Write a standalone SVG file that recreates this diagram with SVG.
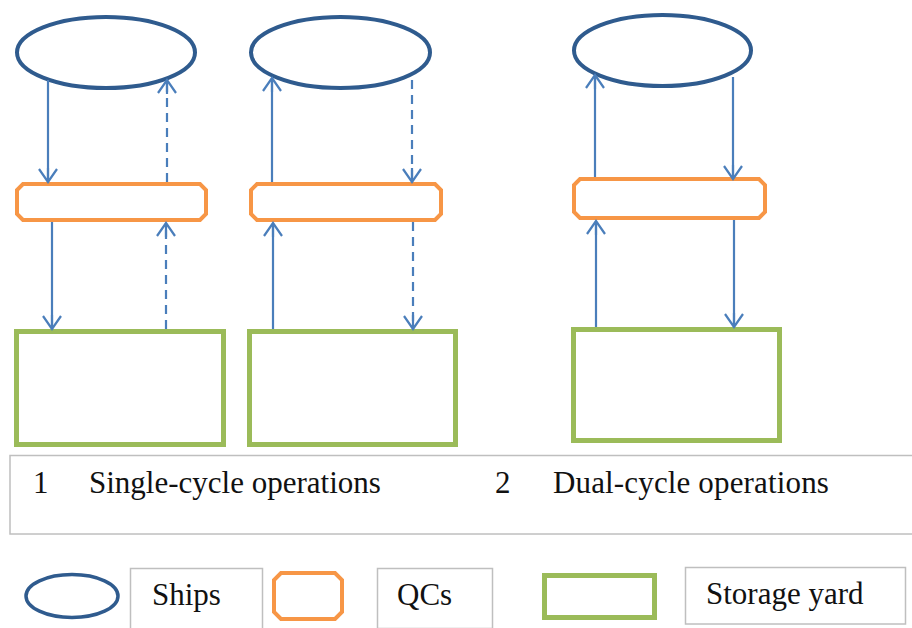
<svg xmlns="http://www.w3.org/2000/svg" width="912" height="628" viewBox="0 0 912 628">
  <style>
    .ship { fill: #ffffff; stroke: #2F5B8E; stroke-width: 4; }
    .qc { fill: #ffffff; stroke: #F79646; stroke-width: 4; stroke-linejoin: miter; }
    .yard { fill: #ffffff; stroke: #9BBB59; stroke-width: 5; }
    .flow { fill: none; stroke: #4A7EBB; stroke-width: 2.2; marker-end: url(#head); }
    .dash { stroke-dasharray: 9 6; }
    .frame { fill: #ffffff; stroke: #BFBFBF; stroke-width: 1.5; }
    .label { font-family: "Liberation Serif", "Times New Roman", serif; font-size: 31px; fill: #111111; }
  </style>
  <defs>
    <marker id="head" viewBox="-16 -12 20 24" refX="0" refY="0" markerWidth="20" markerHeight="24" markerUnits="userSpaceOnUse" orient="auto">
      <path d="M -13 -9 L 0 0 L -13 9 M -14 0 L 0 0" fill="none" stroke="#4A7EBB" stroke-width="2.2" stroke-linejoin="miter"/>
    </marker>
  </defs>

  <rect width="912" height="628" fill="#ffffff"/>

  <!-- panel 1: single-cycle -->
  <g id="ship1"><ellipse class="ship" cx="106" cy="52.5" rx="89" ry="35.5"/></g>
  <g id="qc1"><path class="qc" d="M 23 184 H 200 L 206 190 V 214 L 200 220 H 23 L 17 214 V 190 Z"/></g>
  <g id="yard1"><rect class="yard" x="16.5" y="331.5" width="207" height="113"/></g>

  <!-- panel 2: single-cycle -->
  <g id="ship2"><ellipse class="ship" cx="340.5" cy="52.5" rx="89.5" ry="35.5"/></g>
  <g id="qc2"><path class="qc" d="M 257 184 H 435 L 441 190 V 214 L 435 220 H 257 L 251 214 V 190 Z"/></g>
  <g id="yard2"><rect class="yard" x="249.5" y="331.5" width="206" height="113"/></g>

  <!-- panel 3: dual-cycle -->
  <g id="ship3"><ellipse class="ship" cx="662.5" cy="50.5" rx="88.5" ry="35.5"/></g>
  <g id="qc3"><path class="qc" d="M 580 179 H 759 L 765 185 V 212 L 759 218 H 580 L 574 212 V 185 Z"/></g>
  <g id="yard3"><rect class="yard" x="573.5" y="329.5" width="206" height="111"/></g>

  <!-- flows between ships, QCs and the yard -->
  <g id="connectors">
    <line class="flow" x1="48" y1="80" x2="48" y2="182"/>
    <line class="flow dash" x1="167" y1="182" x2="167" y2="80"/>
    <line class="flow" x1="52" y1="222" x2="52" y2="329"/>
    <line class="flow dash" x1="166" y1="329" x2="166" y2="223"/>

    <line class="flow" x1="272" y1="182" x2="272" y2="78"/>
    <line class="flow dash" x1="412" y1="80" x2="412" y2="182"/>
    <line class="flow" x1="273" y1="329" x2="273" y2="223"/>
    <line class="flow dash" x1="413" y1="222" x2="413" y2="329"/>

    <line class="flow" x1="595" y1="177" x2="595" y2="75"/>
    <line class="flow" x1="733" y1="77" x2="733" y2="179"/>
    <line class="flow" x1="596" y1="327" x2="596" y2="221"/>
    <line class="flow" x1="734" y1="220" x2="734" y2="327"/>
  </g>

  <!-- caption -->
  <g id="caption">
    <rect class="frame" x="10" y="455.5" width="910" height="78.5"/>
    <text class="label" x="33" y="493">1</text>
    <text class="label" x="89" y="493">Single-cycle operations</text>
    <text class="label" x="495" y="493">2</text>
    <text class="label" x="553" y="493" letter-spacing="0.15">Dual-cycle operations</text>
  </g>

  <!-- legend -->
  <g id="legend-ship">
    <ellipse class="ship" cx="72" cy="596" rx="46" ry="21.5" style="stroke-width:3.5"/>
    <rect class="frame" x="130.5" y="568.5" width="132" height="64"/>
    <text class="label" x="152" y="605">Ships</text>
  </g>
  <g id="legend-qc">
    <path class="qc" d="M 281 573 H 335 L 342 580 V 612 L 335 619 H 281 L 274 612 V 580 Z"/>
    <rect class="frame" x="377.5" y="568.5" width="115" height="60"/>
    <text class="label" x="397" y="605">QCs</text>
  </g>
  <g id="legend-yard">
    <rect class="yard" x="544.5" y="575.5" width="110" height="42"/>
    <rect class="frame" x="685.5" y="567.5" width="220" height="56.5"/>
    <text class="label" x="706" y="604">Storage yard</text>
  </g>
</svg>
